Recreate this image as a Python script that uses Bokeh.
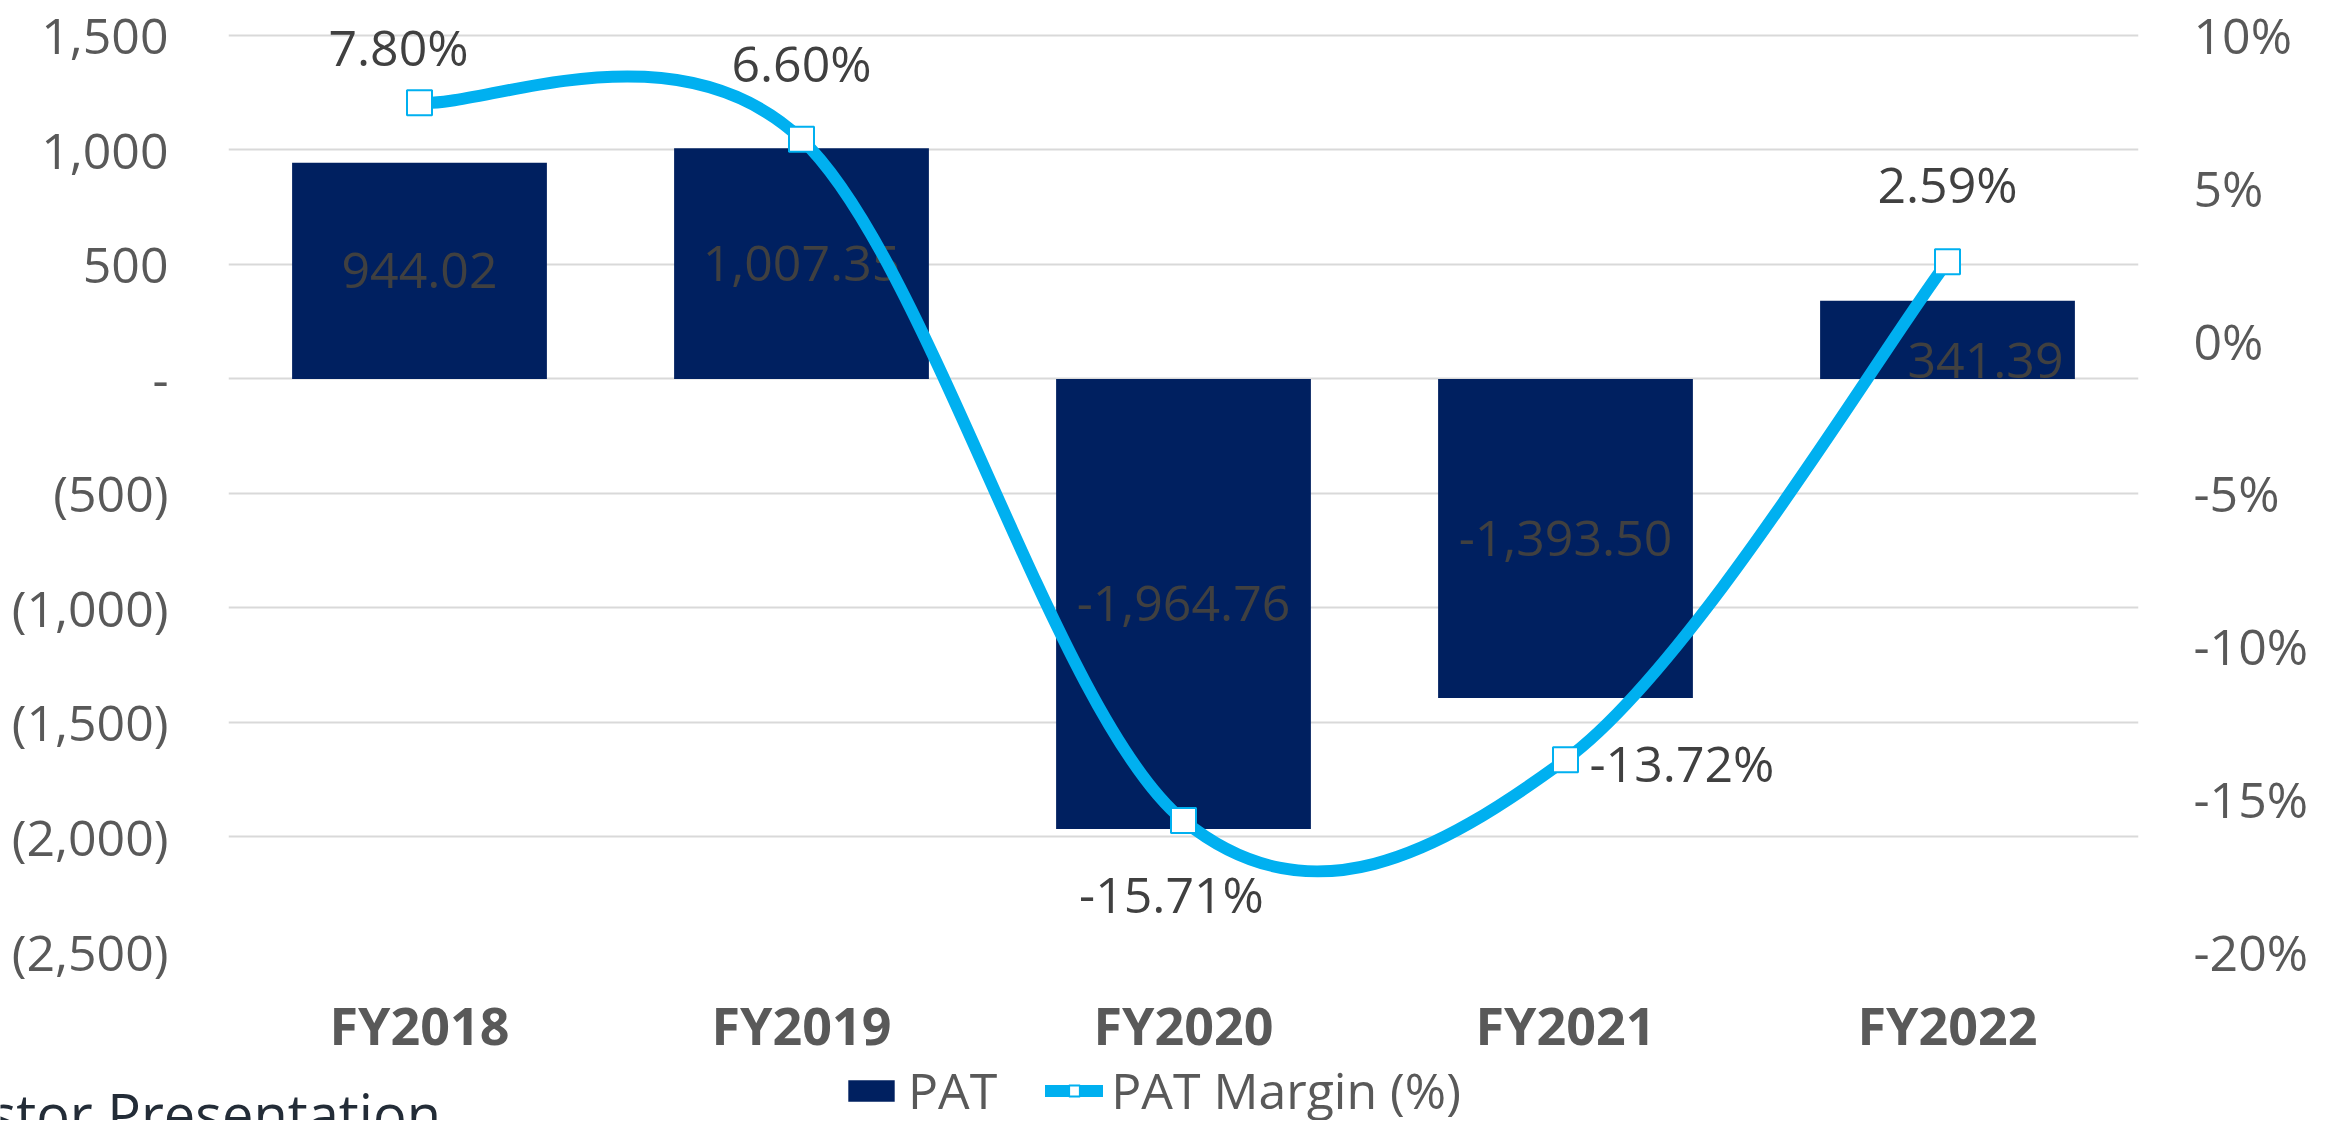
from bokeh.plotting import figure
from bokeh.layouts import column
from bokeh.models import (Range1d, LinearAxis, FixedTicker, ColumnDataSource,
                          Legend, LegendItem, Label)
from bokeh.core.properties import value
from bokeh.embed import file_html
from bokeh.resources import INLINE

# ---------------- data ----------------
categories = ["FY2018", "FY2019", "FY2020", "FY2021", "FY2022"]
pat = [944.02, 1007.35, -1964.76, -1393.50, 341.39]
pat_margin = [7.80, 6.60, -15.71, -13.72, 2.59]

left_ticks = [-2500, -2000, -1500, -1000, -500, 0, 500, 1000, 1500]
left_tick_labels = ["(2,500)", "(2,000)", "(1,500)", "(1,000)", "(500)", "-",
                    "500", "1,000", "1,500"]
right_ticks = [-20, -15, -10, -5, 0, 5, 10]
right_tick_labels = ["-20%", "-15%", "-10%", "-5%", "0%", "5%", "10%"]

# ---------------- styling ----------------
FONT = "Open Sans"
NAVY = "#002060"
CYAN = "#00B0F0"
GRID = "#D9D9D9"
TICK_COLOR = "#595959"
LABEL_COLOR = "#404040"

W, H_TOTAL = 2316, 1120
H_MAIN = 1062
H_FOOT = H_TOTAL - H_MAIN
FRAME_BOTTOM = 952          # canvas px of main frame bottom
TOP_GAP = 35                # px between frame top and top tick
px_per_unit_left = (FRAME_BOTTOM - TOP_GAP) / (left_ticks[-1] - left_ticks[0])
px_per_unit_right = (FRAME_BOTTOM - TOP_GAP) / (right_ticks[-1] - right_ticks[0])
y_top_left = left_ticks[-1] + TOP_GAP / px_per_unit_left
y_top_right = right_ticks[-1] + TOP_GAP / px_per_unit_right

xs = list(range(len(categories)))

p = figure(width=W, height=H_MAIN, output_backend="svg", toolbar_location=None,
           x_range=Range1d(-0.5, len(categories) - 0.5),
           y_range=Range1d(left_ticks[0], y_top_left),
           min_border_left=228, min_border_right=178,
           min_border_top=0, min_border_bottom=H_MAIN - FRAME_BOTTOM,
           outline_line_color=None, background_fill_color="white",
           border_fill_color="white")
p.frame_align = False
p.extra_y_ranges = {"pct": Range1d(right_ticks[0], y_top_right)}

# axes
xa = p.xaxis[0]
xa.ticker = FixedTicker(ticks=xs)
xa.major_label_overrides = {i: c for i, c in zip(xs, categories)}
xa.major_label_text_font = FONT
xa.major_label_text_font_size = "52px"
xa.major_label_text_font_style = "bold"
xa.major_label_text_color = TICK_COLOR
xa.axis_line_color = None
xa.major_tick_line_color = None
xa.minor_tick_line_color = None
xa.major_label_standoff = 31

ya = p.yaxis[0]
ya.ticker = FixedTicker(ticks=left_ticks)
ya.major_label_overrides = {t: l for t, l in zip(left_ticks, left_tick_labels)}
ya.major_label_text_font = FONT
ya.major_label_text_font_size = "50px"
ya.major_label_text_color = TICK_COLOR
ya.axis_line_color = None
ya.major_tick_line_color = None
ya.minor_tick_line_color = None
ya.major_label_standoff = 54

ra = LinearAxis(y_range_name="pct", ticker=FixedTicker(ticks=right_ticks))
ra.major_label_overrides = {t: l for t, l in zip(right_ticks, right_tick_labels)}
ra.major_label_text_font = FONT
ra.major_label_text_font_size = "50px"
ra.major_label_text_color = TICK_COLOR
ra.axis_line_color = None
ra.major_tick_line_color = None
ra.minor_tick_line_color = None
ra.major_label_standoff = 49
p.add_layout(ra, "right")

p.xgrid.grid_line_color = None
p.ygrid.grid_line_color = GRID
p.ygrid.grid_line_width = 2

# bars
bar_src = ColumnDataSource(dict(
    x=xs, top=pat, mid=[v / 2 for v in pat],
    txt=[f"{v:,.2f}" for v in pat],
    dx=[0, 0, 0, 0, 38], dy=[0, 0, 0, 0, 21]))
p.vbar(x="x", top="top", bottom=0, width=0.667, source=bar_src,
       fill_color=NAVY, line_color=None)
p.text(x="x", y="mid", text="txt", source=bar_src, x_offset="dx", y_offset="dy",
       text_font=value(FONT), text_font_size="50px", text_color=LABEL_COLOR,
       text_align="center", text_baseline="middle")

# smoothed margin line (cubic Bezier segments through the data points)
n = len(xs)
bz = dict(x0=[], y0=[], x1=[], y1=[], cx0=[], cy0=[], cx1=[], cy1=[])
for i in range(n - 1):
    a = max(i - 1, 0)
    d = min(i + 2, n - 1)
    bz["x0"].append(xs[i]); bz["y0"].append(pat_margin[i])
    bz["x1"].append(xs[i + 1]); bz["y1"].append(pat_margin[i + 1])
    bz["cx0"].append(xs[i] + (xs[i + 1] - xs[a]) / 6)
    bz["cy0"].append(pat_margin[i] + (pat_margin[i + 1] - pat_margin[a]) / 6)
    bz["cx1"].append(xs[i + 1] - (xs[d] - xs[i]) / 6)
    bz["cy1"].append(pat_margin[i + 1] - (pat_margin[d] - pat_margin[i]) / 6)
p.bezier(source=ColumnDataSource(bz), x0="x0", y0="y0", x1="x1", y1="y1",
         cx0="cx0", cy0="cy0", cx1="cx1", cy1="cy1",
         line_color=CYAN, line_width=12, line_cap="round",
         y_range_name="pct")

m_src = ColumnDataSource(dict(
    x=xs, y=pat_margin, txt=[f"{v:.2f}%" for v in pat_margin],
    dx=[-21, 0, -12, 24, 0], dy=[-56, -76, 73, 3, -78],
    align=["center", "center", "center", "left", "center"]))
p.scatter(x="x", y="y", source=m_src, marker="square", size=25,
          fill_color="white", line_color=CYAN, line_width=2,
          y_range_name="pct")
p.text(x="x", y="y", text="txt", source=m_src, x_offset="dx", y_offset="dy",
       text_align="align", text_baseline="middle", y_range_name="pct",
       text_font=value(FONT), text_font_size="50px", text_color=LABEL_COLOR)

# ---------------- legend strip (below the chart) ----------------
f = figure(width=W, height=H_FOOT, output_backend="svg", toolbar_location=None,
           x_range=Range1d(-0.5, len(categories) - 0.5),
           y_range=Range1d(left_ticks[0], y_top_left),
           x_axis_type=None, y_axis_type=None,
           min_border=0, min_border_left=0, min_border_right=0,
           min_border_top=0, min_border_bottom=0,
           outline_line_color=None, background_fill_color="white",
           border_fill_color="white")
f.frame_align = False
f.extra_y_ranges = {"pct": Range1d(right_ticks[0], y_top_right)}
f.xgrid.grid_line_color = None
f.ygrid.grid_line_color = None
lg_bar = f.vbar(x=xs, top=pat, bottom=0, width=0.667, fill_color=NAVY,
                line_color=None, visible=False)
lg_line = f.line(x=xs, y=pat_margin, line_color=CYAN, line_width=12,
                 line_cap="round", y_range_name="pct", visible=False)
lg_pts = f.scatter(x=xs, y=pat_margin, marker="square", size=25,
                   fill_color="white", line_color=CYAN, line_width=2,
                   y_range_name="pct", visible=False)
legend = Legend(items=[LegendItem(label="PAT", renderers=[lg_bar]),
                       LegendItem(label="PAT Margin (%)", renderers=[lg_line, lg_pts])],
                orientation="horizontal", location=(842, -4),
                label_text_font=FONT, label_text_font_size="50px",
                label_text_color=TICK_COLOR, glyph_width=58, glyph_height=27,
                label_standoff=8, spacing=48, padding=0, margin=0,
                border_line_color=None, background_fill_alpha=0)
f.add_layout(legend, "center")

# cropped slide footer text
f.add_layout(Label(x=-11, y=8, x_units="screen", y_units="screen",
                   text="stor Presentation", text_font=FONT,
                   text_font_size="56px", text_color="#232C37",
                   text_baseline="alphabetic"))

layout = column(p, f, spacing=0)
open("out.html", "w").write(file_html(layout, INLINE))
